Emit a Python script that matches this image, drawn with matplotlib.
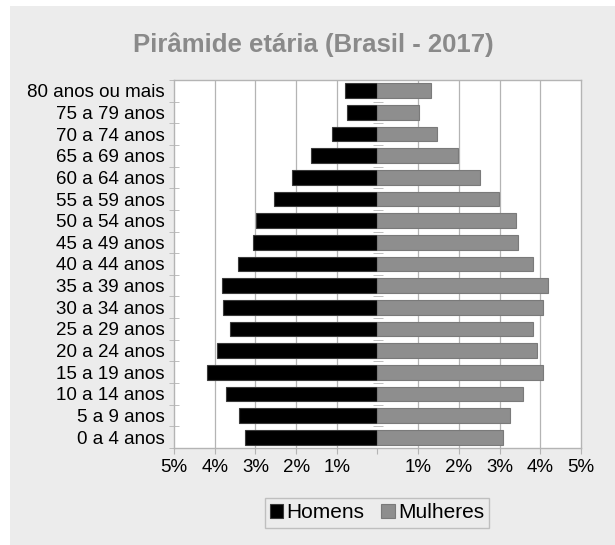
import matplotlib.pyplot as plt
from matplotlib.patches import Rectangle
from matplotlib.ticker import FixedLocator, NullFormatter

# Dados (percentual da populacao)
faixas = ["0 a 4 anos", "5 a 9 anos", "10 a 14 anos", "15 a 19 anos", "20 a 24 anos",
          "25 a 29 anos", "30 a 34 anos", "35 a 39 anos", "40 a 44 anos", "45 a 49 anos",
          "50 a 54 anos", "55 a 59 anos", "60 a 64 anos", "65 a 69 anos", "70 a 74 anos",
          "75 a 79 anos", "80 anos ou mais"]
homens = [3.26, 3.40, 3.72, 4.18, 3.94, 3.62, 3.79, 3.83, 3.43, 3.05,
          2.98, 2.55, 2.11, 1.63, 1.11, 0.75, 0.79]
mulheres = [3.08, 3.25, 3.57, 4.06, 3.92, 3.83, 4.06, 4.18, 3.82, 3.45,
            3.41, 2.98, 2.51, 1.97, 1.45, 1.01, 1.32]
ticks_x = [-5, -4, -3, -2, -1, 0, 1, 2, 3, 4, 5]
rotulos_x = ["5%", "4%", "3%", "2%", "1%", "", "1%", "2%", "3%", "4%", "5%"]

plt.rcParams['font.family'] = ['Liberation Sans', 'DejaVu Sans']
CINZA_FUNDO = "#ececec"
CINZA_LINHA = "#b4b4b4"
TAM = 13.5

fig = plt.figure(figsize=(6.15, 5.45), dpi=100)
fig.patch.set_facecolor("white")
fig.patches.append(Rectangle((10 / 615, 0), 1, 1 - 6 / 545, transform=fig.transFigure,
                             facecolor=CINZA_FUNDO, edgecolor="none", zorder=-10))

ax = fig.add_axes([174 / 615, 1 - 448 / 545, (581 - 174) / 615, (448 - 80) / 545])
ax.set_facecolor("white")

y = list(range(len(faixas)))
ax.barh(y, [-h for h in homens], height=0.68, color="black", edgecolor="#3a3a3a",
        linewidth=0.8, label="Homens", zorder=3)
ax.barh(y, mulheres, height=0.68, color="#8e8e8e", edgecolor="#7a7a7a",
        linewidth=0.8, label="Mulheres", zorder=3)

ax.set_xlim(-5, 5)
ax.set_ylim(-0.5, len(faixas) - 0.5)
ax.set_xticks(ticks_x)
ax.set_xticklabels(rotulos_x, fontsize=TAM)
ax.set_yticks(y)
ax.set_yticklabels(faixas, fontsize=TAM)

for v in ticks_x:
    if v not in (0, -5, 5):
        ax.axvline(v, color=CINZA_LINHA, linewidth=0.9, zorder=1)

for s in ax.spines.values():
    s.set_color(CINZA_LINHA)
    s.set_linewidth(1.0)

limites = [i - 0.5 for i in range(len(faixas) + 1)]
ax.yaxis.set_minor_locator(FixedLocator(limites))
ax.tick_params(axis="y", which="major", length=0, pad=7)
ax.tick_params(axis="y", which="minor", direction="inout", length=7, color=CINZA_LINHA)
ax.tick_params(axis="x", which="major", length=4, color=CINZA_LINHA, pad=4)

# marcas no eixo central
centro = ax.secondary_yaxis(0.5)
for s in centro.spines.values():
    s.set_visible(False)
centro.set_yticks([])
centro.yaxis.set_minor_locator(FixedLocator(limites[1:-1]))
centro.yaxis.set_minor_formatter(NullFormatter())
centro.tick_params(axis="y", which="minor", direction="inout", length=7, color=CINZA_LINHA)

fig.text(313 / 615, 1 - 45 / 545, "Pirâmide etária (Brasil - 2017)", fontsize=18.5,
         fontweight="bold", color="#8a8a8a", ha="center", va="center")

leg = fig.legend(loc="center", bbox_to_anchor=(377 / 615, 1 - 513 / 545), ncol=2,
                 fontsize=15, frameon=True, fancybox=False, handlelength=0.65,
                 handleheight=0.65, handletextpad=0.15, columnspacing=0.8,
                 borderpad=0.25, borderaxespad=0)
leg.get_frame().set_facecolor(CINZA_FUNDO)
leg.get_frame().set_edgecolor(CINZA_LINHA)
leg.get_frame().set_linewidth(1.0)

fig.savefig("out.png", dpi=100, facecolor=fig.get_facecolor())
